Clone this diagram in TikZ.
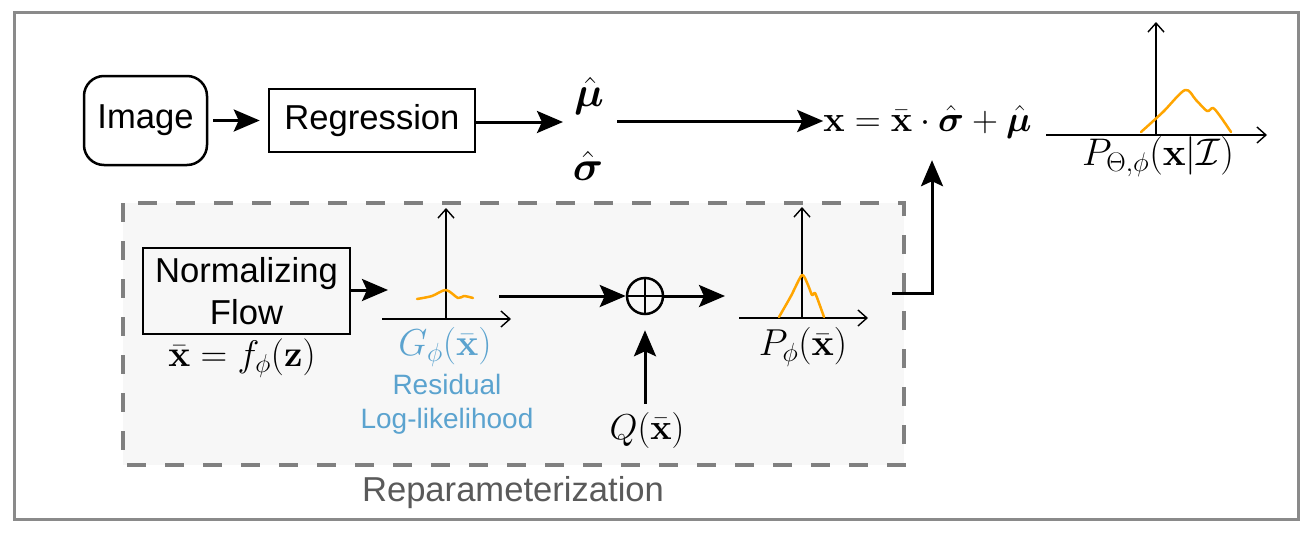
\RequirePackage{fix-cm}
\documentclass[tikz,border=0pt]{standalone}
\usepackage{amsmath,bm}
\usepackage[no-math]{fontspec}
\setmainfont{Liberation Sans}
\usetikzlibrary{arrows.meta,calc}
\definecolor{frameg}{HTML}{8A8A8A}
\definecolor{dashg}{HTML}{808080}
\definecolor{boxfill}{HTML}{F7F7F7}
\definecolor{curvec}{HTML}{FFA500}
\definecolor{resblue}{HTML}{5BA3CF}
\definecolor{labgray}{HTML}{5A5A5A}
\begin{document}
\begin{tikzpicture}[x=1pt,y=-1pt,font=\fontsize{34.6}{42}\selectfont,
  arr/.style={line width=3pt,-{Stealth[length=26pt,width=22pt,inset=5pt]}},
  box/.style={draw,line width=2.5pt,inner sep=0pt},
  axisline/.style={line width=1.4pt,-{Straight Barb[length=9pt,width=16pt]}},
  dist/.style={curvec,line width=2.5pt,line cap=round,line join=round},
  mth/.style={inner sep=0pt},
  big/.style={font=\fontsize{42}{48}\selectfont},
  lab/.style={font=\fontsize{37.5}{44}\selectfont},
  bluetxt/.style={resblue,font=\fontsize{28}{34}\selectfont,align=center,inner sep=0pt}]
\useasboundingbox (0,0) rectangle (1312,536);
% outer frame
\draw[frameg,line width=3pt] (14,12) rectangle (1298,519);
% reparameterization box
\draw[dashg,line width=4.5pt,fill=boxfill,dash pattern=on 19pt off 19pt] (123,203) rectangle (904,465);
\node[labgray,anchor=base] (rep) at (513,501) {Reparameterization};

% top row
\node[box,rounded corners=20pt,minimum width=123pt,minimum height=89pt] (img) at (145.5,120.5) {Image};
\node[box,minimum width=206pt,minimum height=63pt] (reg) at (372,120.5) {Regression};
\draw[arr,shorten <=5pt,shorten >=8pt] (img) -- (reg);
\coordinate (msin) at (563,122);
\draw[arr] (reg.east |- msin) -- (msin);
\node[mth,big] (mu) at (589,96) {$\hat{\bm{\mu}}$};
\node[mth,big] (sig) at (588,166) {$\hat{\bm{\sigma}}$};
\coordinate (msout) at (617,121);
\node[mth,anchor=base,font=\fontsize{36}{42}\selectfont] (fx) at (927.5,131) {$\mathbf{x}=\bar{\mathbf{x}}\cdot\hat{\bm{\sigma}}+\hat{\bm{\mu}}$};
\draw[arr] (msout) -- (msout -| fx.west) ;

% top-right distribution
\coordinate (o3) at (1156,135);
\draw[axisline] (1046,135) -- (1267,135);
\draw[axisline] (o3) -- (1156,22);
\draw[dist] plot[smooth,tension=0.5] coordinates {(1141,132) (1163,112) (1185,90) (1196,100) (1207,111) (1213,108) (1220,116) (1231,132)};
\node[mth,font=\fontsize{38.5}{44}\selectfont] (plab) at (1158,157) {$P_{\Theta,\phi}(\mathbf{x}|\mathcal{I})$};

% normalizing flow
\node[box,minimum width=207pt,minimum height=86pt,align=center] (nf) at (246.5,291) {Normalizing\\Flow};
\node[mth,font=\fontsize{37}{44}\selectfont] (nfeq) at (242,358) {$\bar{\mathbf{x}}=f_{\phi}(\mathbf{z})$};
\coordinate (gin) at (388,290);
\draw[arr] (nf.east |- gin) -- (gin);

% G plot
\coordinate (o1) at (446,319);
\draw[axisline] (382,319) -- (511,319);
\draw[axisline] (o1) -- (446,208);
\draw[dist] plot[smooth,tension=0.5] coordinates {(417,299) (432,296) (446,290) (458,298) (464,296) (473,298)};
\node[mth,lab,resblue] (glab) at (445,347) {$G_{\phi}(\bar{\mathbf{x}})$};
\node[bluetxt,anchor=base] (res1) at (447,394) {Residual};
\node[bluetxt,anchor=base] (res2) at (447,428) {Log-likelihood};

% oplus
\node[draw,circle,line width=2.5pt,minimum size=36pt,inner sep=0pt] (op) at (645,296) {};
\draw[line width=1.5pt] (op.north) -- (op.south) (op.west) -- (op.east);
\coordinate (gout) at (499,296);
\draw[arr] (gout) -- (op.west);
\node[inner sep=8pt,font=\fontsize{36}{42}\selectfont] (q) at (647,430) {$Q(\bar{\mathbf{x}})$};
\draw[arr,shorten >=15pt] (q.north -| op.south) -- (op.south);
\coordinate (pin) at (725,296);
\draw[arr] (op.east) -- (pin);

% P plot
\coordinate (o2) at (802,318);
\draw[axisline] (739,318) -- (868,318);
\draw[axisline] (o2) -- (802,207);
\draw[dist] plot[smooth,tension=0.4] coordinates {(779,317) (791,296) (802,275) (808,285) (812,295) (815,293) (819,303) (824,317)};
\node[mth,lab] (pplab) at (803,347) {$P_{\phi}(\bar{\mathbf{x}})$};

% output to formula
\coordinate (pout) at (892,293);
\draw[arr] (pout) -| ($(fx.south)+(4.5,22)$);
\end{tikzpicture}
\end{document}
